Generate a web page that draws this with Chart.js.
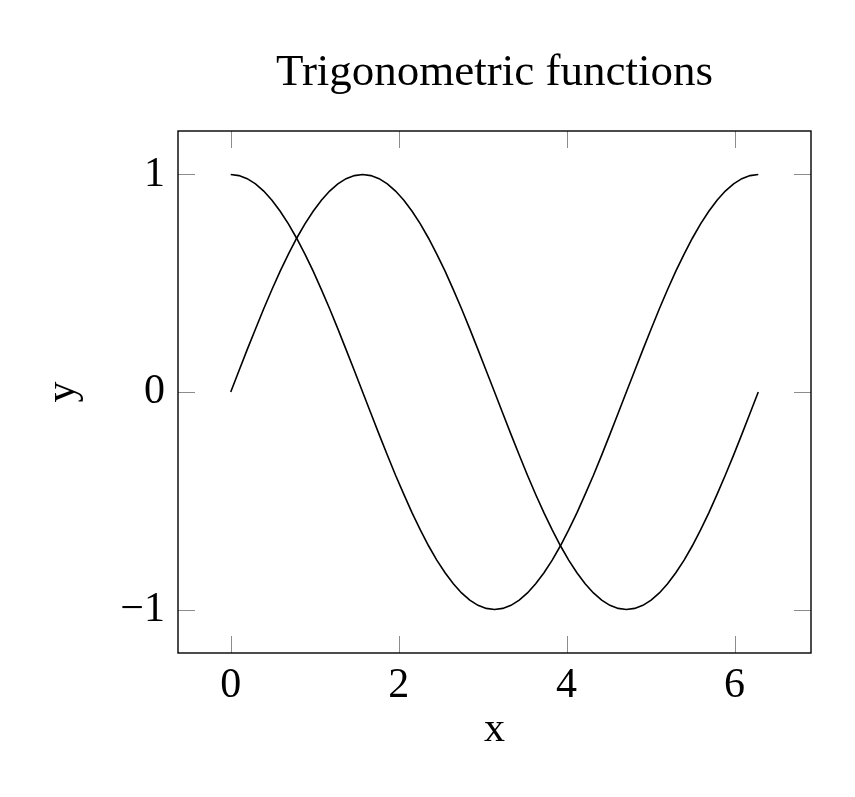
<!DOCTYPE html>
<html>
<head>
<meta charset="utf-8">
<script src="https://cdn.jsdelivr.net/npm/chart.js@4"></script>
<style>
html,body{margin:0;padding:0;background:#fff;}
#wrap{width:855px;height:797px;}
</style>
</head>
<body>
<div id="wrap"><canvas id="c" width="855" height="797"></canvas></div>
<script>
const chartTitle = 'Trigonometric functions';
const xTitle = 'x';
const yTitle = 'y';
const xTicks = [0, 2, 4, 6];
const yTicks = [-1, 0, 1];
const xValues = [0,0.098,0.196,0.295,0.393,0.491,0.589,0.687,0.785,0.884,0.982,1.080,1.178,1.276,1.374,1.473,1.571,1.669,1.767,1.865,1.963,2.062,2.160,2.258,2.356,2.454,2.553,2.651,2.749,2.847,2.945,3.043,3.142,3.240,3.338,3.436,3.534,3.632,3.731,3.829,3.927,4.025,4.123,4.221,4.320,4.418,4.516,4.614,4.712,4.811,4.909,5.007,5.105,5.203,5.301,5.400,5.498,5.596,5.694,5.792,5.890,5.989,6.087,6.185,6.283];
const sinValues = [0,0.098,0.195,0.290,0.383,0.471,0.556,0.634,0.707,0.773,0.831,0.882,0.924,0.957,0.981,0.995,1,0.995,0.981,0.957,0.924,0.882,0.831,0.773,0.707,0.634,0.556,0.471,0.383,0.290,0.195,0.098,0,-0.098,-0.195,-0.290,-0.383,-0.471,-0.556,-0.634,-0.707,-0.773,-0.831,-0.882,-0.924,-0.957,-0.981,-0.995,-1,-0.995,-0.981,-0.957,-0.924,-0.882,-0.831,-0.773,-0.707,-0.634,-0.556,-0.471,-0.383,-0.290,-0.195,-0.098,0];
const cosValues = [1,0.995,0.981,0.957,0.924,0.882,0.831,0.773,0.707,0.634,0.556,0.471,0.383,0.290,0.195,0.098,0,-0.098,-0.195,-0.290,-0.383,-0.471,-0.556,-0.634,-0.707,-0.773,-0.831,-0.882,-0.924,-0.957,-0.981,-0.995,-1,-0.995,-0.981,-0.957,-0.924,-0.882,-0.831,-0.773,-0.707,-0.634,-0.556,-0.471,-0.383,-0.290,-0.195,-0.098,0,0.098,0.195,0.290,0.383,0.471,0.556,0.634,0.707,0.773,0.831,0.882,0.924,0.957,0.981,0.995,1];

const FONT = "'Liberation Serif', 'DejaVu Serif', serif";

const tickMarks = {
  id: 'tickMarks',
  afterDatasetsDraw(chart) {
    const ctx = chart.ctx, a = chart.chartArea;
    const xs = chart.scales.x, ys = chart.scales.y;
    const L = 17;
    ctx.save();
    ctx.strokeStyle = '#8c8c8c';
    ctx.lineWidth = 1;
    ctx.beginPath();
    xTicks.forEach(v => {
      const p = Math.round(xs.getPixelForValue(v)) + 0.5;
      ctx.moveTo(p, a.bottom); ctx.lineTo(p, a.bottom - L);
      ctx.moveTo(p, a.top); ctx.lineTo(p, a.top + L);
    });
    yTicks.forEach(v => {
      const p = Math.round(ys.getPixelForValue(v)) + 0.5;
      ctx.moveTo(a.left, p); ctx.lineTo(a.left + L, p);
      ctx.moveTo(a.right, p); ctx.lineTo(a.right - L, p);
    });
    ctx.stroke();
    ctx.strokeStyle = '#000';
    ctx.lineWidth = 1.4;
    ctx.strokeRect(a.left, a.top, a.right - a.left, a.bottom - a.top);
    ctx.restore();
  }
};

new Chart(document.getElementById('c'), {
  type: 'scatter',
  data: {
    datasets: [
      { label: 'sin', data: xValues.map((x, i) => ({x, y: sinValues[i]})), showLine: true, borderColor: '#000', borderWidth: 1.6, pointRadius: 0, fill: false },
      { label: 'cos', data: xValues.map((x, i) => ({x, y: cosValues[i]})), showLine: true, borderColor: '#000', borderWidth: 1.6, pointRadius: 0, fill: false }
    ]
  },
  options: {
    responsive: false,
    animation: false,
    devicePixelRatio: 1,
    layout: { padding: { left: 38, right: 44, top: 0, bottom: 42 } },
    plugins: {
      legend: { display: false },
      tooltip: { enabled: false },
      title: {
        display: true, text: chartTitle, fullSize: false, color: '#000',
        font: { family: FONT, size: 45, weight: 'normal' },
        padding: { top: 46, bottom: 31 }
      }
    },
    scales: {
      x: {
        type: 'linear', min: -0.628, max: 6.911,
        afterBuildTicks: s => { s.ticks = xTicks.map(v => ({value: v})); },
        afterFit: s => { s.height = 102; },
        grid: { display: false, drawTicks: false },
        border: { display: false },
        ticks: { color: '#000', font: { family: FONT, size: 42 }, padding: 8, maxRotation: 0,
          callback: v => String(v).replace('-', '\u2212') },
        title: { display: true, text: xTitle, color: '#000', font: { family: FONT, size: 42 }, padding: { top: 0, bottom: 0 } }
      },
      y: {
        type: 'linear', min: -1.2, max: 1.2,
        afterBuildTicks: s => { s.ticks = yTicks.map(v => ({value: v})); },
        afterFit: s => { s.width = 140; },
        grid: { display: false, drawTicks: false },
        border: { display: false },
        ticks: { color: '#000', font: { family: FONT, size: 42 }, padding: 13,
          callback: v => String(v).replace('-', '\u2212') },
        title: { display: true, text: yTitle, color: '#000', font: { family: FONT, size: 42 }, padding: 0 }
      }
    }
  },
  plugins: [tickMarks]
});
</script>
</body>
</html>
